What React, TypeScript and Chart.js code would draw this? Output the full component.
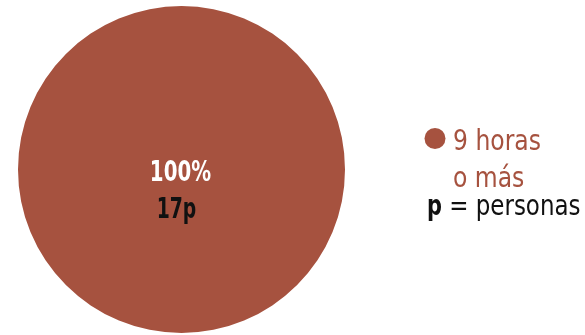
import React, { useEffect, useRef } from "react";
import { Chart, registerables } from "chart.js";

Chart.register(...registerables);

const categories = ["9 horas o más"];
const legendLines = ["9 horas", "o más"];
const values = [17];
const percentLabels = ["100%"];
const countLabels = ["17p"];
const noteBold = "p";
const noteRest = " = personas";

const SLICE_COLOR = "#a6523f";
const FONT = "'DejaVu Sans Condensed', 'DejaVu Sans', sans-serif";

function drawScaled(
  ctx: CanvasRenderingContext2D,
  text: string,
  x: number,
  y: number,
  font: string,
  sx: number,
  align: "left" | "center"
) {
  ctx.save();
  ctx.font = font;
  const w = ctx.measureText(text).width * sx;
  const left = align === "center" ? x - w / 2 : x;
  ctx.translate(left, y);
  ctx.scale(sx, 1);
  ctx.textAlign = "left";
  ctx.textBaseline = "alphabetic";
  ctx.fillText(text, 0, 0);
  ctx.restore();
  return w;
}

const overlay = {
  id: "overlay",
  afterDraw(chart: any) {
    const ctx: CanvasRenderingContext2D = chart.ctx;
    const arc = chart.getDatasetMeta(0).data[0];
    if (!arc) return;
    const cx = arc.x;
    const cy = arc.y;
    const sx = 0.76;
    ctx.fillStyle = "#ffffff";
    drawScaled(ctx, percentLabels[0], cx - 1, cy + 11, `bold 29px ${FONT}`, sx, "center");
    ctx.fillStyle = "#111111";
    drawScaled(ctx, countLabels[0], cx - 5, cy + 48, `bold 29px ${FONT}`, 0.72, "center");

    // legend
    const lx = chart.chartArea.right + 89;
    ctx.save();
    ctx.fillStyle = SLICE_COLOR;
    ctx.beginPath();
    ctx.arc(lx, cy - 31, 10.5, 0, Math.PI * 2);
    ctx.fill();
    ctx.restore();
    const tx = lx + 18;
    ctx.fillStyle = SLICE_COLOR;
    drawScaled(ctx, legendLines[0], tx, cy - 20, `29px ${FONT}`, 0.9, "left");
    drawScaled(ctx, legendLines[1], tx, cy + 17, `29px ${FONT}`, 0.9, "left");
    ctx.fillStyle = "#111111";
    const bw = drawScaled(ctx, noteBold, lx - 8, cy + 45, `bold 29px ${FONT}`, 0.8, "left");
    drawScaled(ctx, noteRest, lx - 8 + bw, cy + 45, `29px ${FONT}`, 0.88, "left");
  },
};

export default function App() {
  const ref = useRef<HTMLCanvasElement | null>(null);
  useEffect(() => {
    document.body.style.margin = "0";
    if (!ref.current) return;
    const chart = new Chart(ref.current, {
      type: "pie",
      data: {
        labels: categories,
        datasets: [
          {
            data: values,
            backgroundColor: [SLICE_COLOR],
            borderWidth: 0,
          },
        ],
      },
      options: {
        animation: false,
        responsive: false,
        layout: { padding: { left: 17, top: 6, bottom: 2, right: 239 } },
        plugins: {
          legend: { display: false },
          tooltip: { enabled: false },
        },
      },
      plugins: [overlay],
    });
    return () => chart.destroy();
  }, []);
  return (
    <div style={{ width: 585, height: 335 }}>
      <canvas ref={ref} width={585} height={335} style={{ display: "block" }} />
    </div>
  );
}
